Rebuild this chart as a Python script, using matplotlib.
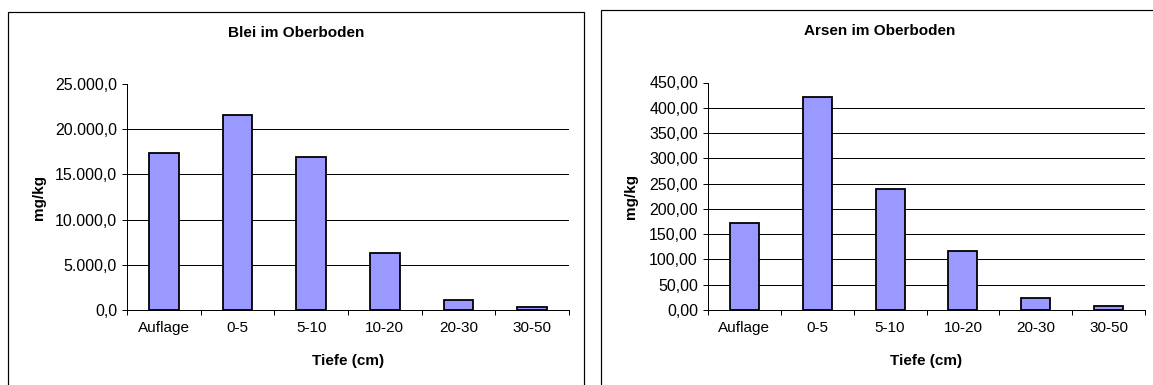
import matplotlib
matplotlib.use("Agg")

import matplotlib.pyplot as plt
from matplotlib.patches import Rectangle
from matplotlib.ticker import FixedLocator, FuncFormatter
import numpy as np

plt.rcParams["font.family"] = ["Liberation Sans", "DejaVu Sans"]

# Tiefenstufen und Messwerte (mg/kg)
tiefen = ["Auflage", "0-5", "5-10", "10-20", "20-30", "30-50"]
blei = [17400, 21550, 16900, 6270, 1150, 380]
arsen = [171.5, 421.5, 239.0, 117.5, 23.8, 8.7]

blei_ticks = [0, 5000, 10000, 15000, 20000, 25000]
arsen_ticks = [0, 50, 100, 150, 200, 250, 300, 350, 400, 450]

BAR_COLOR = "#9999FF"
PX = 72 / 100  # one pixel in points at dpi=100


def de_format(decimals):
    # German number format: 25.000,0 / 450,00
    def fmt(v, pos):
        s = f"{v:,.{decimals}f}"
        return s.replace(",", "X").replace(".", ",").replace("X", ".")
    return FuncFormatter(fmt)


def draw_panel(ax, values, yticks, decimals, title, title_x, ylabel_x):
    x = np.arange(len(tiefen))
    ax.bar(x, values, width=0.4, color=BAR_COLOR, edgecolor="black",
           linewidth=1.8 * PX, zorder=3)

    ax.set_xlim(-0.5, len(tiefen) - 0.5)
    ax.set_ylim(yticks[0], yticks[-1])

    # category boundaries carry the tick marks, centres carry the labels
    ax.xaxis.set_major_locator(FixedLocator(np.arange(len(tiefen) + 1) - 0.5))
    ax.xaxis.set_major_formatter(FuncFormatter(lambda v, p: ""))
    ax.xaxis.set_minor_locator(FixedLocator(x))
    ax.set_xticklabels(tiefen, minor=True)
    ax.tick_params(axis="x", which="major", length=5 * PX, width=PX,
                   direction="out")
    ax.tick_params(axis="x", which="minor", length=0, pad=11 * PX,
                   labelsize=11)

    ax.yaxis.set_major_locator(FixedLocator(yticks))
    ax.yaxis.set_major_formatter(de_format(decimals))
    ax.tick_params(axis="y", length=5 * PX, width=PX, pad=5 * PX,
                   labelsize=11.5)

    ax.grid(axis="y", color="black", linewidth=PX, zorder=0)
    ax.set_axisbelow(True)
    fig.canvas.draw()
    ax.yaxis.get_gridlines()[-1].set_visible(False)

    for side in ["top", "right"]:
        ax.spines[side].set_visible(False)
    for side in ["left", "bottom"]:
        ax.spines[side].set_linewidth(PX)

    ax.set_title(title, fontsize=11, fontweight="bold", x=title_x, y=1.226,
                 va="center", pad=0)
    ax.set_ylabel("mg/kg", fontsize=11, fontweight="bold", va="center")
    ax.yaxis.set_label_coords(ylabel_x, 0.5)
    ax.set_xlabel("Tiefe (cm)", fontsize=11, fontweight="bold", va="center")
    ax.xaxis.set_label_coords(0.5, -0.226)


W, H = 1153, 385
fig = plt.figure(figsize=(W / 100, H / 100), dpi=100)

# chart frames
fig.patches.append(Rectangle((8 / W, -0.1), 576 / W, 1.1 - 12 / H,
                             transform=fig.transFigure, fill=False,
                             edgecolor="black", linewidth=1.2 * PX))
fig.patches.append(Rectangle((601 / W, -0.1), 0.5, 1.1 - 10 / H,
                             transform=fig.transFigure, fill=False,
                             edgecolor="black", linewidth=1.2 * PX))

ax1 = fig.add_axes([127 / W, 1 - 310 / H, 442 / W, 226 / H])
ax2 = fig.add_axes([708 / W, 1 - 310 / H, 437 / W, 227.5 / H])

draw_panel(ax1, blei, blei_ticks, 1, "Blei im Oberboden", 0.382, -0.199)
draw_panel(ax2, arsen, arsen_ticks, 2, "Arsen im Oberboden", 0.394, -0.176)

fig.savefig("out.png", dpi=100)
